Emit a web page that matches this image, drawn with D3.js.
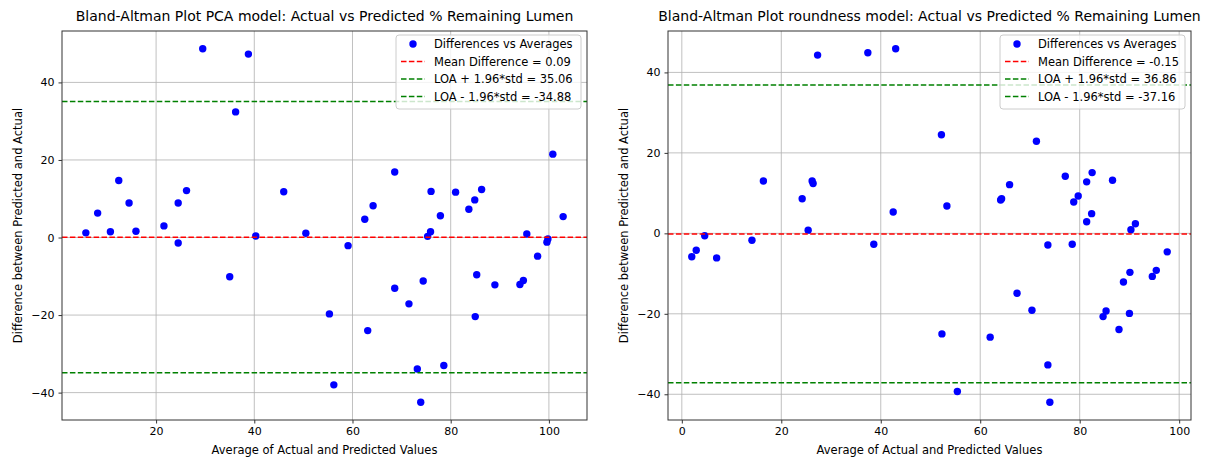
<!DOCTYPE html>
<html>
<head>
<meta charset="utf-8">
<script src="https://cdn.jsdelivr.net/npm/d3@7"></script>
<style>
body { margin: 0; background: #fff; }
text { font-family: "DejaVu Sans", sans-serif; fill: #000; }
</style>
</head>
<body>
<svg id="chart" width="1210" height="462"></svg>
<script>
// PCA model: averages and differences
var pcaAvg = [5.7, 8.1, 10.7, 12.4, 14.5, 15.9, 21.6, 24.5, 24.5, 26.2, 29.5, 35.0, 36.2, 38.8, 40.3, 46.0, 50.5,
	55.3, 56.2, 59.1, 62.5, 63.1, 64.2, 68.6, 68.6, 71.5, 73.2, 73.9, 74.4, 75.3, 75.9, 76.0, 77.9, 78.6, 81.0,
	83.7, 84.9, 85.0, 85.3, 86.3, 89.0, 94.1, 94.8, 95.5, 97.7, 99.6, 99.8, 100.8, 102.9];
var pcaDiff = [1.2, 6.3, 1.5, 14.7, 8.9, 1.6, 3.0, 8.9, -1.4, 12.1, 48.7, -10.1, 32.4, 47.3, 0.4, 11.8, 1.1,
	-19.7, -38.0, -2.1, 4.7, -24.0, 8.2, 16.9, -13.1, -17.1, -33.9, -42.5, -11.2, 0.3, 1.5, 11.9, 5.6, -33.0, 11.7,
	7.3, 9.7, -20.4, -9.6, 12.4, -12.2, -12.1, -11.1, 0.9, -4.8, -1.2, -0.4, 21.5, 5.4];
var pcaStats = [0.09, 35.06, -34.88];

// roundness model
var roundAvg = [2.0, 2.9, 4.6, 7.0, 14.1, 16.4, 24.2, 25.4, 26.2, 26.4, 27.3, 37.4, 38.6, 42.5, 43.0, 52.2, 52.3,
	53.3, 55.4, 62.0, 64.1, 64.3, 65.9, 67.4, 70.4, 71.3, 73.6, 73.6, 74.0, 77.1, 78.5, 78.8, 79.7, 81.4, 81.4,
	82.4, 82.5, 84.7, 85.3, 86.6, 87.9, 88.8, 90.0, 90.1, 90.3, 91.2, 94.6, 95.4, 97.6];
var roundDiff = [-5.8, -4.2, -0.6, -6.1, -1.7, 13.0, 8.6, 0.8, 13.0, 12.4, 44.3, 44.9, -2.7, 5.3, 45.9, 24.5, -25.0,
	6.8, -39.3, -25.8, 8.3, 8.6, 12.1, -14.9, -19.1, 22.9, -2.9, -32.7, -42.0, 14.2, -2.7, 7.8, 9.3, 12.8, 2.9,
	4.9, 15.1, -20.7, -19.3, 13.2, -23.9, -12.1, -19.9, -9.7, 0.9, 2.4, -10.7, -9.2, -4.6];
var roundStats = [-0.15, 36.86, -37.16];

var titles = ["Bland-Altman Plot PCA model: Actual vs Predicted % Remaining Lumen",
	"Bland-Altman Plot roundness model: Actual vs Predicted % Remaining Lumen"];

var svg = d3.select("#chart");

function pad(ext) {
	var m = (ext[1] - ext[0]) * 0.05;
	return [ext[0] - m, ext[1] + m];
}

function plot(left, right, avg, diff, stats, title) {
	var top = 31, bottom = 420;
	var data = avg.map(function(a, i) { return { x: a, y: diff[i] }; });

	var x = d3.scaleLinear().domain(pad(d3.extent(avg))).range([left, right]);
	var y = d3.scaleLinear().domain(pad(d3.extent(diff))).range([bottom, top]);

	var g = svg.append("g");

	// grid
	g.append("g").selectAll("line")
		.data(x.ticks(5).filter(function(t) { return x(t) > left && x(t) < right; }))
		.enter().append("line")
		.attr("x1", function(d) { return x(d); }).attr("x2", function(d) { return x(d); })
		.attr("y1", top).attr("y2", bottom)
		.attr("stroke", "#b0b0b0").attr("stroke-width", 0.8);
	g.append("g").selectAll("line")
		.data(y.ticks(5))
		.enter().append("line")
		.attr("y1", function(d) { return y(d); }).attr("y2", function(d) { return y(d); })
		.attr("x1", left).attr("x2", right)
		.attr("stroke", "#b0b0b0").attr("stroke-width", 0.8);

	// axes
	var xAxis = g.append("g").attr("transform", "translate(0," + bottom + ")")
		.call(d3.axisBottom(x).ticks(5).tickSize(3.5).tickPadding(4));
	var yAxis = g.append("g").attr("transform", "translate(" + left + ",0)")
		.call(d3.axisLeft(y).ticks(5).tickSize(3.5).tickPadding(4));
	[xAxis, yAxis].forEach(function(a) {
		a.select(".domain").remove();
		a.selectAll("text").style("font-size", "11px").attr("fill", "#222");
		a.selectAll("line").attr("stroke", "#333");
	});

	// points
	g.append("g").selectAll("circle")
		.data(data)
		.enter().append("circle")
		.attr("cx", function(d) { return x(d.x); })
		.attr("cy", function(d) { return y(d.y); })
		.attr("r", 3.7)
		.attr("fill", "#0000ff");

	// mean + limits of agreement
	var lineCols = ["#ff0000", "#008000", "#008000"];
	g.append("g").selectAll("line")
		.data(stats)
		.enter().append("line")
		.attr("x1", left).attr("x2", right)
		.attr("y1", function(d) { return y(d); }).attr("y2", function(d) { return y(d); })
		.attr("stroke", function(d, i) { return lineCols[i]; })
		.attr("stroke-width", 1.5)
		.attr("stroke-dasharray", "5.5,2.4");

	// frame
	g.append("rect")
		.attr("x", left).attr("y", top)
		.attr("width", right - left).attr("height", bottom - top)
		.attr("fill", "none").attr("stroke", "#333").attr("stroke-width", 1);

	// legend
	var labels = ["Differences vs Averages",
		"Mean Difference = " + stats[0].toFixed(2),
		"LOA + 1.96*std = " + stats[1].toFixed(2),
		"LOA - 1.96*std = " + stats[2].toFixed(2)];
	var lx = right - 191, ly = 35;
	var legend = g.append("g").attr("transform", "translate(" + lx + "," + ly + ")");
	legend.append("rect")
		.attr("width", 185).attr("height", 74).attr("rx", 3)
		.attr("fill", "#fff").attr("fill-opacity", 0.8)
		.attr("stroke", "#ccc");
	var rows = legend.selectAll(".row")
		.data(labels)
		.enter().append("g")
		.attr("class", "row")
		.attr("transform", function(d, i) { return "translate(0," + (9 + i * 17.5) + ")"; });
	rows.append("text")
		.attr("x", 38).attr("dy", "0.35em")
		.style("font-size", "11.5px")
		.attr("fill", "#222")
		.text(function(d) { return d; });
	rows.filter(function(d, i) { return i == 0; })
		.append("circle").attr("cx", 17).attr("r", 3.7).attr("fill", "#0000ff");
	rows.filter(function(d, i) { return i > 0; })
		.append("line")
		.attr("x1", 5).attr("x2", 29)
		.attr("stroke", function(d, i) { return lineCols[i]; })
		.attr("stroke-width", 1.5)
		.attr("stroke-dasharray", "5.5,2.4");

	// titles / labels
	g.append("text")
		.attr("x", (left + right) / 2).attr("y", 21)
		.attr("text-anchor", "middle")
		.style("font-size", "14px")
		.text(title);
	g.append("text")
		.attr("x", (left + right) / 2).attr("y", 454)
		.attr("text-anchor", "middle")
		.style("font-size", "11.5px")
		.attr("fill", "#222")
		.text("Average of Actual and Predicted Values");
	g.append("text")
		.attr("transform", "translate(" + (left - 40) + "," + ((top + bottom) / 2) + ") rotate(-90)")
		.attr("text-anchor", "middle")
		.style("font-size", "11.5px")
		.attr("fill", "#222")
		.text("Difference between Predicted and Actual");
}

plot(62, 587, pcaAvg, pcaDiff, pcaStats, titles[0]);
plot(668, 1191, roundAvg, roundDiff, roundStats, titles[1]);
</script>
</body>
</html>
